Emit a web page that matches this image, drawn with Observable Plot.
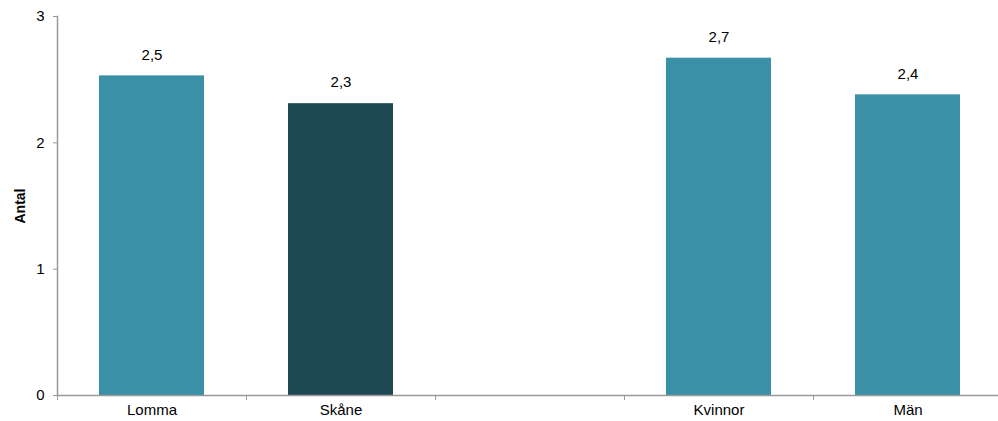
<!DOCTYPE html>
<html>
<head>
<meta charset="utf-8">
<script src="https://cdn.jsdelivr.net/npm/d3@7"></script>
<script src="https://cdn.jsdelivr.net/npm/@observablehq/plot@0.6"></script>
<style>
  html, body { margin: 0; padding: 0; background: #fff; }
  #chart svg { font-family: "Liberation Sans", Arial, sans-serif; }
  #chart g[aria-label="y-axis label"] text { font-weight: bold; font-size: 14px; }
</style>
</head>
<body>
<div id="chart"></div>
<script>
const categories = ["Lomma", "Skåne", "", "Kvinnor", "Män"];
const barCategories = ["Lomma", "Skåne", "Kvinnor", "Män"];
const values = [2.53, 2.31, 2.67, 2.38];
const colors = ["#3A91A7", "#1E4955", "#3A91A7", "#3A91A7"];
const yTicks = [0, 1, 2, 3];

const data = barCategories.map((c, i) => ({cat: c, value: values[i], color: colors[i]}));
const fmt = v => d3.format(".1f")(v).replace(".", ",");

const width = 998, height = 421;
const marginLeft = 57, marginRight = -4;
const step = (width - marginLeft - marginRight) / categories.length;

const chart = Plot.plot({
  width, height,
  marginLeft, marginRight, marginTop: 16, marginBottom: 26,
  style: {fontSize: "15px", fontFamily: "Liberation Sans, Arial, sans-serif", color: "#000", overflow: "visible"},
  x: {domain: categories, paddingInner: 0.444, paddingOuter: 0.222, label: null},
  y: {domain: [0, 3], label: null},
  marks: [
    Plot.barY(data, {x: "cat", y: "value", fill: "color"}),
    Plot.text(data, {x: "cat", y: "value", text: d => fmt(d.value), dy: -21, fontSize: 15, fill: "#000"}),
    Plot.ruleY([0], {stroke: "#999", strokeWidth: 1.5}),
    Plot.frame({anchor: "left", stroke: "#999", strokeWidth: 1.5}),
    Plot.axisY({ticks: yTicks, tickFormat: d3.format("d"), tickSize: 4, tickPadding: 9, stroke: "#999", fontSize: 15, label: "Antal", labelAnchor: "center", labelArrow: "none", labelOffset: 42}),
    Plot.axisX({tickSize: 5, text: null, dx: -step / 2, stroke: "#999", label: null}),
    Plot.axisX({tickSize: 0, tickPadding: 9, fontSize: 15, label: null})
  ]
});
document.getElementById("chart").appendChild(chart);
</script>
</body>
</html>
